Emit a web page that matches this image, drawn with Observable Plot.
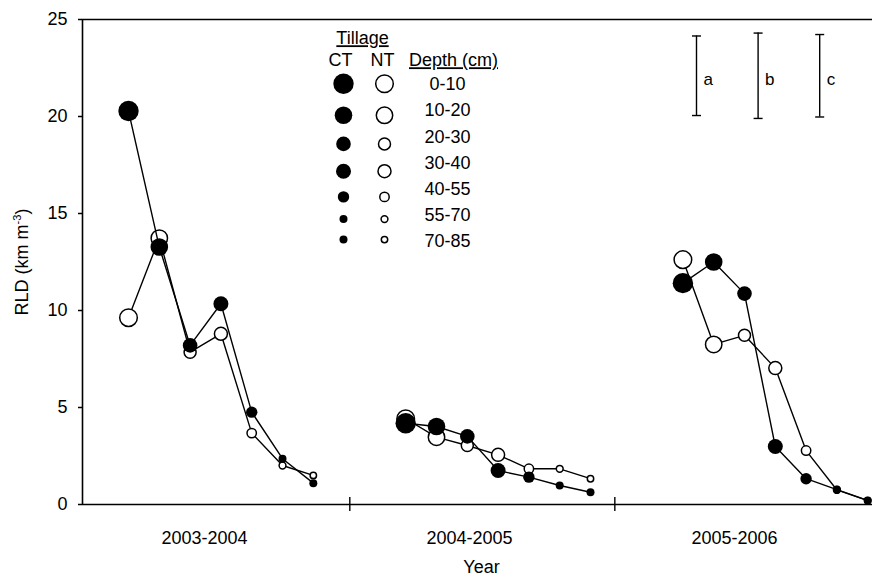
<!DOCTYPE html>
<html><head><meta charset="utf-8">
<script src="https://cdn.jsdelivr.net/npm/d3@7"></script>
<script src="https://cdn.jsdelivr.net/npm/@observablehq/plot@0.6"></script>
<style>
body{margin:0;background:#fff;}
#chart svg{font-family:"Liberation Sans",Arial,sans-serif;background:#fff;}
</style></head><body><div id="chart"></div>
<script>
// ---- data ----
const years = ["2003-2004", "2004-2005", "2005-2006"];
const depths = ["0-10", "10-20", "20-30", "30-40", "40-55", "55-70", "70-85"];
const ct2003 = [20.28, 13.27, 8.2, 10.35, 4.76, 2.36, 1.1];
const nt2003 = [9.63, 13.73, 7.85, 8.8, 3.68, 2.01, 1.5];
const ct2004 = [4.19, 4.02, 3.51, 1.75, 1.41, 0.98, 0.63];
const nt2004 = [4.42, 3.47, 3.04, 2.56, 1.84, 1.84, 1.33];
const ct2005 = [11.41, 12.5, 10.87, 2.99, 1.33, 0.77, 0.21];
const nt2005 = [12.62, 8.25, 8.72, 7.03, 2.78, 0.75, 0.2];
const lsdLabels = ["a", "b", "c"];
const lsdValues = [4.1, 4.4, 4.25];

// ---- layout / style ----
const W = 872, H = 581, mL = 82, mR = 0, mT = 19, mB = 77;
const xDomain = [-1.494, 24.156];
const yDomain = [0, 25];
const pxY = (H - mT - mB) / (yDomain[1] - yDomain[0]);
const pxX = (W - mL - mR) / (xDomain[1] - xDomain[0]);
const toY = py => yDomain[0] + (H - mB - py) / pxY;
const toX = px => xDomain[0] + (px - mL) / pxX;
const groupStride = 9;
const ctRadius = [10.2, 8.8, 7.3, 7.5, 5.7, 4.0, 4.0];
const ntRadius = [8.8, 8.2, 6.0, 6.5, 4.7, 3.4, 3.2];
const boundaries = [7.185, 15.79];
const catSpan = boundaries[1] - boundaries[0];

const ctSeries = [ct2003, ct2004, ct2005];
const ntSeries = [nt2003, nt2004, nt2005];
const rows = [];
years.forEach((yr, g) => {
  depths.forEach((dp, d) => {
    rows.push({year: yr, tillage: "NT", d, x: g * groupStride + d, value: ntSeries[g][d]});
    rows.push({year: yr, tillage: "CT", d, x: g * groupStride + d, value: ctSeries[g][d]});
  });
});
const nt = rows.filter(r => r.tillage === "NT");
const ct = rows.filter(r => r.tillage === "CT");

// legend rows
let cy = 83.3;
const legendRows = depths.map((dp, i) => {
  if (i > 0) cy += ctRadius[i - 1] + ctRadius[i] + 12.5;
  return {dp, i, ty: toY(84 + i * 26.2), cy: toY(cy)};
});
const legendHead = [
  {t: "Tillage", x: toX(362), y: toY(38)},
  {t: "CT", x: toX(340), y: toY(60)},
  {t: "NT", x: toX(382), y: toY(60)},
  {t: "Depth (cm)", x: toX(453), y: toY(60)}
];

// LSD bars
const lsdCenter = 22.1;
const lsdX0 = toX(696);
const lsd = lsdLabels.map((l, i) => ({l, v: lsdValues[i], x: lsdX0 + i * 2}));
const capHalf = 4.5 / pxX;
const caps = lsd.flatMap(b => [b.v / 2, -b.v / 2].map(o => ({x: b.x, y: lsdCenter + o})));

const groupLabels = years.map((y, g) => ({label: y, x: boundaries[0] + g * catSpan - 4.72}));

const plot = Plot.plot({
  width: W, height: H,
  marginLeft: mL, marginRight: mR, marginTop: mT, marginBottom: mB,
  style: {fontFamily: "Liberation Sans, Arial, sans-serif", fontSize: "18px", color: "#000", background: "#fff"},
  x: {domain: xDomain, axis: null},
  y: {domain: yDomain, axis: null},
  r: {type: "identity"},
  marks: [
    Plot.axisY({ticks: [0, 5, 10, 15, 20, 25], tickSize: 4, tickPadding: 11, fontSize: 18, label: null, strokeWidth: 1.5}),
    Plot.ruleX([xDomain[0]], {y1: yDomain[0], y2: yDomain[1], strokeWidth: 1.6}),
    Plot.ruleY([yDomain[0], yDomain[1]], {strokeWidth: 1.6}),
    Plot.ruleX(boundaries, {y1: -7 / pxY, y2: 7 / pxY, strokeWidth: 1.4}),
    Plot.text(groupLabels, {x: "x", text: "label", frameAnchor: "bottom", dy: 39, fontSize: 18}),
    Plot.text(["Year"], {text: d => d, frameAnchor: "bottom", dy: 68, dx: 4, fontSize: 18}),
    Plot.text(["RLD (km m-3)"], {text: d => d, frameAnchor: "left", textAnchor: "middle", rotate: -90, dx: -60, fontSize: 18}),
    // NT series
    Plot.line(nt, {x: "x", y: "value", z: "year", stroke: "#000", strokeWidth: 1.4}),
    Plot.dot(nt, {x: "x", y: "value", r: d => ntRadius[d.d], fill: "#fff", stroke: "#000", strokeWidth: 1.5}),
    // CT series
    Plot.line(ct, {x: "x", y: "value", z: "year", stroke: "#000", strokeWidth: 1.4}),
    Plot.dot(ct, {x: "x", y: "value", r: d => ctRadius[d.d], fill: "#000", stroke: "none"}),
    // legend
    Plot.text(legendHead, {x: "x", y: "y", text: "t", fontSize: 18}),
    Plot.dot(legendRows, {x: toX(343), y: "cy", r: d => ctRadius[d.i], fill: "#000", stroke: "none"}),
    Plot.dot(legendRows, {x: toX(384), y: "cy", r: d => ntRadius[d.i], fill: "#fff", stroke: "#000", strokeWidth: 1.5}),
    Plot.text(legendRows, {x: toX(447), y: "ty", text: "dp", fontSize: 18}),
    // LSD bars
    Plot.ruleX(lsd, {x: "x", y1: d => lsdCenter - d.v / 2, y2: d => lsdCenter + d.v / 2, strokeWidth: 1.4}),
    Plot.link(caps, {x1: d => d.x - capHalf, x2: d => d.x + capHalf, y1: "y", y2: "y", strokeWidth: 1.4}),
    Plot.text(lsd, {x: "x", y: lsdCenter, text: "l", dx: 7, dy: 4, textAnchor: "start", fontSize: 17})
  ]
});
document.getElementById("chart").appendChild(plot);
const svg = d3.select(plot);
svg.selectAll("text").filter(function () { return this.textContent === "Tillage" || this.textContent === "Depth (cm)"; })
  .style("text-decoration", "underline");
svg.selectAll("text").filter(function () { return this.textContent === "RLD (km m-3)"; })
  .each(function () {
    const t = d3.select(this);
    t.text("RLD (km m");
    t.append("tspan").attr("dy", "-7").attr("font-size", "11").text("-3");
    t.append("tspan").attr("dy", "7").text(")");
  });
</script></body></html>
